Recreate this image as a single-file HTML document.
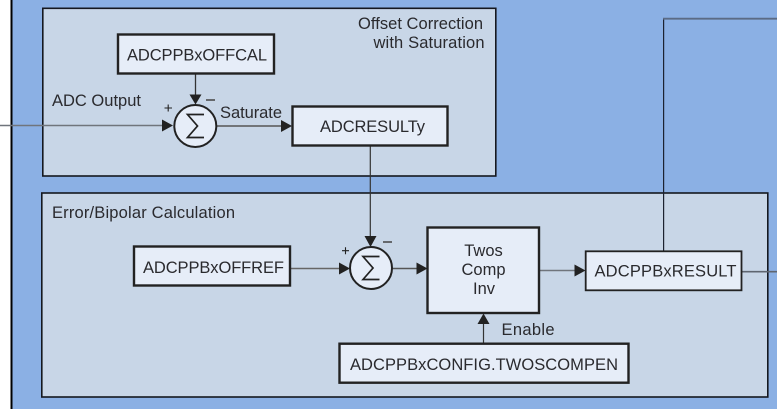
<!DOCTYPE html>
<html>
<head>
<meta charset="utf-8">
<style>
html,body{margin:0;padding:0;width:777px;height:409px;overflow:hidden;background:#fff}
svg{display:block}
text{font-family:"Liberation Sans",sans-serif;fill:#2a2a2e;font-size:16.5px}
.c{text-anchor:middle}
.b{fill:#e6edf8;stroke:#222;stroke-width:2.4}
.p{fill:#c8d6e7;stroke:#15181f;stroke-width:1.6}
</style>
</head>
<body>
<svg width="777" height="409" viewBox="0 0 777 409" xmlns="http://www.w3.org/2000/svg">
<rect x="0" y="0" width="777" height="409" fill="#fff"/>
<rect x="11" y="0" width="766" height="409" fill="#8bb0e4"/>
<rect x="10.5" y="0" width="2" height="409" fill="#000"/>

<rect class="p" x="42.8" y="8.3" width="453" height="167.7"/>
<rect class="p" x="41.8" y="193" width="726" height="204"/>

<!-- connectors -->
<g fill="none">
<path d="M0 125.500H164" stroke="#70757c" stroke-width="1.5"/>
<path d="M195.500 74V96" stroke="#333" stroke-width="1.3"/>
<path d="M217 126H282" stroke="#555" stroke-width="1.4"/>
<path d="M370.300 146V236" stroke="#333" stroke-width="1.2"/>
<path d="M290 268.500H340" stroke="#666" stroke-width="1.4"/>
<path d="M392 268.500H417" stroke="#555" stroke-width="1.4"/>
<path d="M539 270.500H576" stroke="#70757c" stroke-width="1.5"/>
<path d="M483.500 343V323" stroke="#333" stroke-width="1.2"/>
<path d="M663.600 251V18.700" stroke="#1c2230" stroke-width="1.2"/>
<path d="M663 18.700H777" stroke="#5b6b85" stroke-width="1.8"/>
<path d="M741 271.700H777" stroke="#5f6670" stroke-width="1.6"/>
</g>

<!-- arrowheads -->
<g fill="#222">
<path d="M162 119.500L173 125.500L162 131.500Z"/>
<path d="M189.500 94.500H201.500L195.500 104.500Z"/>
<path d="M281 120L292 126L281 132Z"/>
<path d="M364.500 236H376.500L370.500 247Z"/>
<path d="M339 262.500L350 268.500L339 274.500Z"/>
<path d="M416.500 262.500L427.500 268.500L416.500 274.500Z"/>
<path d="M574.500 264.500L585.500 270.500L574.500 276.500Z"/>
<path d="M477.500 324H489.500L483.500 313.500Z"/>
</g>

<!-- boxes -->
<rect class="b" x="118" y="34.500" width="156" height="39"/>
<rect class="b" x="292.500" y="106.500" width="155" height="39"/>
<rect class="b" x="134" y="246.500" width="156" height="39"/>
<rect class="b" x="427.500" y="227.500" width="111.500" height="85.500"/>
<rect class="b" x="339.500" y="343.700" width="289" height="39"/>
<rect class="b" x="585.700" y="251.300" width="155.800" height="39" style="stroke-width:1.8"/>

<!-- summing junctions -->
<circle cx="195.300" cy="126" r="21" fill="#e6edf8" stroke="#222" stroke-width="2"/>
<circle cx="371" cy="268" r="21" fill="#e6edf8" stroke="#222" stroke-width="2"/>
<path d="M204 114.500H187.500L197.500 126L187.500 137.500H204" fill="none" stroke="#222" stroke-width="1.7"/>
<path d="M379.500 256.500H363L373 268L363 279.500H379.500" fill="none" stroke="#222" stroke-width="1.7"/>

<!-- signs -->
<path d="M164.500 108H172M168.200 104.500V111.500M342 250.700H349M345.500 247.200V254.200" stroke="#222" stroke-width="1.100" fill="none"/>
<path d="M206 100H215M383 242H392" stroke="#444" stroke-width="1.500" fill="none"/>

<!-- labels -->
<text x="52" y="106" textLength="89">ADC Output</text>
<text x="220" y="118" textLength="62">Saturate</text>
<text x="358" y="29" textLength="125">Offset Correction</text>
<text x="373.500" y="48" textLength="111">with Saturation</text>
<text x="52" y="218" textLength="183">Error/Bipolar Calculation</text>
<text x="127" y="60.500" textLength="140">ADCPPBxOFFCAL</text>
<text x="320" y="132" textLength="105">ADCRESULTy</text>
<text x="143" y="273" textLength="141">ADCPPBxOFFREF</text>
<text class="c" x="483.500" y="256">Twos</text>
<text class="c" x="483.500" y="275">Comp</text>
<text class="c" x="484" y="294">Inv</text>
<text x="501.500" y="335" textLength="53">Enable</text>
<text x="350" y="370" textLength="268">ADCPPBxCONFIG.TWOSCOMPEN</text>
<text x="594.500" y="276.500" textLength="142">ADCPPBxRESULT</text>
</svg>
</body>
</html>
